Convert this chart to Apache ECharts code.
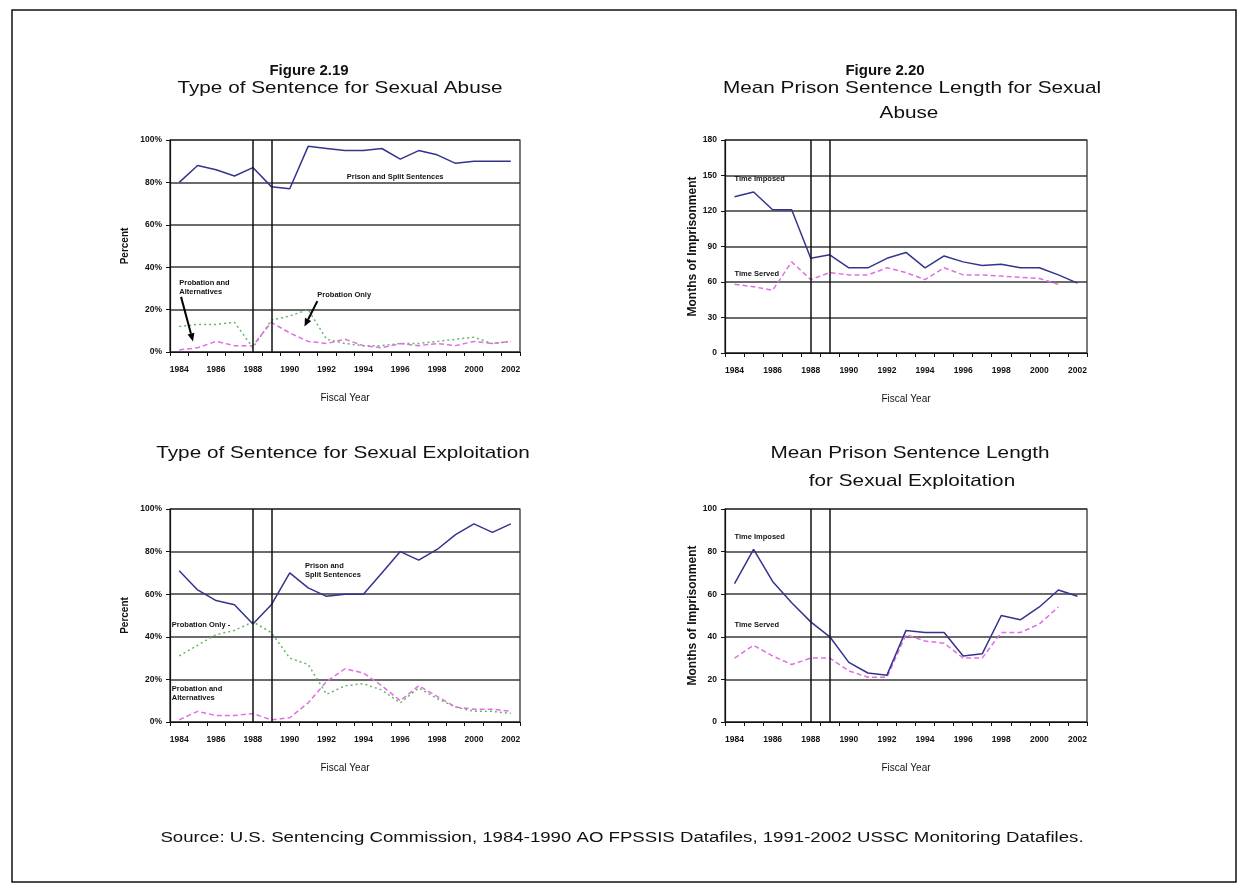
<!DOCTYPE html>
<html><head><meta charset="utf-8">
<script src="https://cdn.jsdelivr.net/npm/echarts@6/dist/echarts.min.js"></script>
<style>html,body{margin:0;padding:0;background:#fff}#c{width:1246px;height:887px}</style>
</head><body><div id="c"></div>
<script>
// ---- data ----
const years = ['1984','1985','1986','1987','1988','1989','1990','1991','1992','1993','1994','1995','1996','1997','1998','1999','2000','2001','2002'];
const guidelineYears = ['1988','1989'];
// Figure 2.19 - Type of sentence, sexual abuse (percent)
const abusePrisonSplit   = [80,88,86,83,87,78,77,97,96,95,95,96,91,95,93,89,90,90,90];
const abuseProbationOnly = [12,13,13,14,2,15,17,20,6,4,3,3,4,4,5,6,7,4,5];
const abuseProbationAlt  = [1,2,5,3,3,14,9,5,4,6,3,2,4,3,4,3,5,4,5];
// Figure 2.20 - Mean prison sentence length, sexual abuse (months)
const abuseTimeImposed = [132,136,121,121,80,83,72,72,80,85,72,82,77,74,75,72,72,66,59];
const abuseTimeServed  = [58,56,53,77,62,68,66,66,72,68,62,72,66,66,65,64,63,58,null];
// Type of sentence, sexual exploitation (percent)
const exploitPrisonSplit   = [71,62,57,55,46,55,70,63,59,60,60,70,80,76,81,88,93,89,93];
const exploitProbationOnly = [31,36,41,43,47,42,30,27,13,17,18,15,9,16,11,7,5,5,4];
const exploitProbationAlt  = [1,5,3,3,4,1,2,9,19,25,23,17,10,17,12,7,6,6,5];
// Mean prison sentence length, sexual exploitation (months)
const exploitTimeImposed = [65,81,66,56,47,40,28,23,22,43,42,42,31,32,50,48,54,62,59];
const exploitTimeServed  = [30,36,31,27,30,30,24,21,21,41,38,37,30,30,42,42,46,54,null];
// axis scales
const percentAxis = {min:0, max:100, interval:20};
const abuseMonthsAxis = {min:0, max:180, interval:30};
const exploitMonthsAxis = {min:0, max:100, interval:20};

const FONT = "'Liberation Sans Narrow','Arial Narrow','Liberation Sans',Arial,sans-serif";
const FONT2 = "'Liberation Sans',Arial,sans-serif";

const grids = [
  {left:170, top:140, width:350, height:212},
  {left:725, top:140, width:362, height:213},
  {left:170, top:509, width:350, height:213},
  {left:725, top:509, width:362, height:213}
];

function xAx(i){
  return {
    type:'category', gridIndex:i, data:years, boundaryGap:true,
    name:'Fiscal Year', nameLocation:'middle', nameGap:41,
    nameTextStyle:{fontFamily:FONT2, fontSize:10, color:'#111'},
    axisLine:{lineStyle:{color:'#111', width:1.2}},
    axisTick:{show:true, interval:0, length:4, lineStyle:{color:'#111'}},
    axisLabel:{interval:1, fontFamily:FONT, fontSize:8.5, fontWeight:'bold', color:'#111', margin:13},
    splitLine:{show:false}
  };
}
function yAx(i, sc, fmt, name, gap, nsize){
  return {
    type:'value', gridIndex:i, min:sc.min, max:sc.max, interval:sc.interval,
    name:name, nameLocation:'middle', nameGap:gap, nameRotate:90,
    nameTextStyle:{fontFamily:FONT2, fontSize:nsize, fontWeight:'bold', color:'#111'},
    axisLine:{show:true, lineStyle:{color:'#111', width:1.2}},
    axisTick:{show:true, length:4, lineStyle:{color:'#111'}},
    axisLabel:{formatter:fmt, fontFamily:FONT, fontSize:8.5, fontWeight:'bold', color:'#111', margin:8},
    splitLine:{show:true, lineStyle:{color:'#3a3a3a', width:1.6}}
  };
}
const solid = {color:'#34348c', width:1.5, type:'solid'};
const dashed = {color:'#e070e0', width:1.5, type:[5,3]};
const dotted = {color:'#66b466', width:1.5, type:[2,3]};
function ser(gi, data, ls, withMark){
  const s = {type:'line', xAxisIndex:gi, yAxisIndex:gi, data:data, symbol:'none',
    lineStyle:ls, itemStyle:{color:ls.color}, connectNulls:false, silent:true, z:3};
  if (withMark){
    s.markLine = {silent:true, symbol:['none','none'], label:{show:false},
      lineStyle:{color:'#111', width:1.5, type:'solid'},
      data: guidelineYears.map(y=>({xAxis:y}))};
  }
  return s;
}

const chart = echarts.init(document.getElementById('c'), null, {renderer:'canvas'});
chart.setOption({
  animation:false,
  backgroundColor:'#fff',
  grid: grids.map(g=>Object.assign({show:true, borderColor:'#222', borderWidth:1.2, backgroundColor:'#fff'}, g)),
  xAxis:[xAx(0), xAx(1), xAx(2), xAx(3)],
  yAxis:[
    yAx(0, percentAxis, '{value}%', 'Percent', 40, 10),
    yAx(1, abuseMonthsAxis, '{value}', 'Months of Imprisonment', 26, 12),
    yAx(2, percentAxis, '{value}%', 'Percent', 40, 10),
    yAx(3, exploitMonthsAxis, '{value}', 'Months of Imprisonment', 26, 12)
  ],
  series:[
    ser(0, abuseProbationOnly, dotted, false),
    ser(0, abuseProbationAlt, dashed, false),
    ser(0, abusePrisonSplit, solid, true),
    ser(1, abuseTimeServed, dashed, false),
    ser(1, abuseTimeImposed, solid, true),
    ser(2, exploitProbationOnly, dotted, false),
    ser(2, exploitProbationAlt, dashed, false),
    ser(2, exploitPrisonSplit, solid, true),
    ser(3, exploitTimeServed, dashed, false),
    ser(3, exploitTimeImposed, solid, true)
  ]
});

// ---- annotations anchored in data coordinates ----
function pt(gi, xi, v){
  const f0 = Math.floor(xi), fr = xi - f0;
  const a = chart.convertToPixel({gridIndex:gi}, [f0, v]);
  const b = chart.convertToPixel({gridIndex:gi}, [f0+1, v]);
  return [a[0] + (b[0]-a[0])*fr, a[1]];
}
function note(gi, xi, v, text){
  const p = pt(gi, xi, v);
  return {type:'text', x:p[0], y:p[1], z:20, silent:true,
    style:{text:text, fill:'#111', font:"bold 7.5px "+FONT, textAlign:'left', align:'left',
      textVerticalAlign:'middle', verticalAlign:'middle', lineHeight:9}};
}
function arrow(gi, x0, v0, x1, v1){
  const a = pt(gi, x0, v0), b = pt(gi, x1, v1);
  const dx = b[0]-a[0], dy = b[1]-a[1], L = Math.hypot(dx,dy), ux = dx/L, uy = dy/L;
  const hl = 8, hw = 3.5;
  const bx = b[0]-ux*hl, by = b[1]-uy*hl;
  return [
    {type:'line', z:20, silent:true, shape:{x1:a[0], y1:a[1], x2:bx, y2:by}, style:{stroke:'#000', lineWidth:2}},
    {type:'polygon', z:20, silent:true, shape:{points:[[b[0],b[1]],[bx-uy*hw, by+ux*hw],[bx+uy*hw, by-ux*hw]]}, style:{fill:'#000'}}
  ];
}
function title(x, y, text, font, sx){
  return {type:'text', x:x, y:y, z:20, silent:true, scaleX:sx||1,
    style:{text:text, fill:'#111', font:font, textAlign:'center', align:'center', textVerticalAlign:'middle', verticalAlign:'middle'}};
}
const TF = "17px "+FONT2;
const TS = 1.22;
const graphics = [
  {type:'rect', z:0, silent:true, shape:{x:12, y:10, width:1224, height:872}, style:{fill:'none', stroke:'#111', lineWidth:1.5}},
  title(309, 71, 'Figure 2.19', "bold 15px "+FONT),
  title(340, 88, 'Type of Sentence for Sexual Abuse', TF, TS),
  title(885, 71, 'Figure 2.20', "bold 15px "+FONT),
  title(912, 88, 'Mean Prison Sentence Length for Sexual', TF, TS),
  title(909, 113, 'Abuse', TF, TS),
  title(343, 453, 'Type of Sentence for Sexual Exploitation', TF, TS),
  title(910, 453, 'Mean Prison Sentence Length', TF, TS),
  title(912, 481, 'for Sexual Exploitation', TF, TS),
  title(622, 838, 'Source: U.S. Sentencing Commission, 1984-1990 AO FPSSIS Datafiles, 1991-2002 USSC Monitoring Datafiles.', "14px "+FONT2, 1.33),
  note(0, 9.1, 82.5, 'Prison and Split Sentences'),
  note(0, 0.0, 30.6, 'Probation and\nAlternatives'),
  note(0, 7.5, 27, 'Probation Only'),
  ...arrow(0, 0.1, 26, 0.75, 5),
  ...arrow(0, 7.5, 24, 6.8, 12),
  note(1, 0.0, 147, 'Time Imposed'),
  note(1, 0.0, 67, 'Time Served'),
  note(2, 6.83, 71, 'Prison and\nSplit Sentences'),
  note(2, -0.4, 45.5, 'Probation Only -'),
  note(2, -0.4, 13.6, 'Probation and\nAlternatives'),
  note(3, 0.0, 87, 'Time Imposed'),
  note(3, 0.0, 45.5, 'Time Served')
];
chart.setOption({graphic: graphics});
</script></body></html>
